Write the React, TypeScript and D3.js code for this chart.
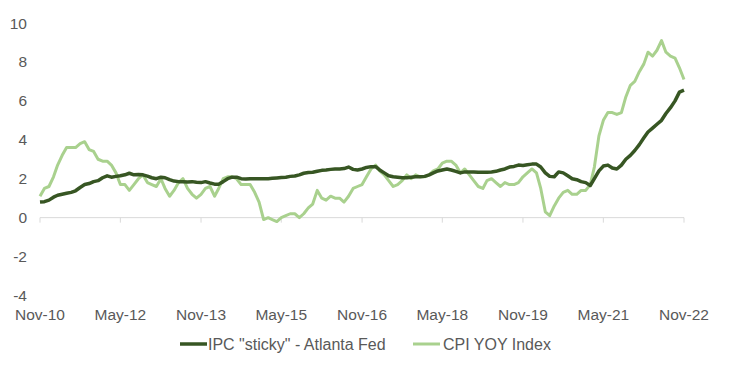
import React from "react";
import * as d3 from "d3";

const startMonth = new Date(2010, 10, 1); // Nov 2010

const stickyCPI = [
  0.80, 0.82, 0.90, 1.05, 1.15, 1.20, 1.25, 1.30, 1.38, 1.55, 1.70, 1.75,
  1.85, 1.90, 2.05, 2.15, 2.08, 2.12, 2.15, 2.20, 2.28, 2.20, 2.22, 2.20,
  2.13, 2.05, 2.00, 2.08, 2.05, 1.95, 1.88, 1.85, 1.85, 1.83, 1.85, 1.82,
  1.80, 1.85, 1.78, 1.72, 1.72, 1.85, 2.00, 2.08, 2.08, 2.00, 1.98, 2.00,
  2.00, 2.00, 2.00, 2.00, 2.02, 2.04, 2.06, 2.08, 2.12, 2.14, 2.20, 2.28,
  2.32, 2.33, 2.38, 2.43, 2.45, 2.48, 2.50, 2.50, 2.52, 2.60, 2.48, 2.45,
  2.50, 2.58, 2.62, 2.62, 2.45, 2.30, 2.15, 2.10, 2.08, 2.05, 2.05, 2.08,
  2.10, 2.10, 2.12, 2.20, 2.30, 2.40, 2.45, 2.50, 2.45, 2.38, 2.30, 2.35,
  2.35, 2.35, 2.33, 2.33, 2.33, 2.35, 2.38, 2.45, 2.50, 2.60, 2.63, 2.70,
  2.68, 2.72, 2.75, 2.75, 2.60, 2.30, 2.12, 2.10, 2.35, 2.30, 2.15, 2.00,
  1.95, 1.85, 1.80, 1.65, 2.00, 2.40, 2.65, 2.70, 2.55, 2.50, 2.70, 3.00,
  3.20, 3.45, 3.75, 4.10, 4.40, 4.60, 4.80, 5.00, 5.35, 5.65, 6.00, 6.45,
  6.55,
];

const cpiYoY = [
  1.1, 1.5,
  1.6, 2.1, 2.7, 3.2, 3.6, 3.6, 3.6, 3.8, 3.9, 3.5, 3.4, 3.0,
  2.9, 2.9, 2.7, 2.3, 1.7, 1.7, 1.4, 1.7, 2.0, 2.2, 1.8, 1.7,
  1.6, 2.0, 1.5, 1.1, 1.4, 1.8, 2.0, 1.5, 1.2, 1.0, 1.2, 1.5,
  1.6, 1.1, 1.5, 2.0, 2.1, 2.1, 2.0, 1.7, 1.7, 1.7, 1.3, 0.8,
  -0.1, 0.0, -0.1, -0.2, 0.0, 0.1, 0.2, 0.2, 0.0, 0.2, 0.5, 0.7,
  1.4, 1.0, 0.9, 1.1, 1.0, 1.0, 0.8, 1.1, 1.5, 1.6, 1.7, 2.1,
  2.5, 2.7, 2.4, 2.2, 1.9, 1.6, 1.7, 1.9, 2.2, 2.0, 2.2, 2.1,
  2.1, 2.2, 2.4, 2.5, 2.8, 2.9, 2.9, 2.7, 2.3, 2.5, 2.2, 1.9,
  1.6, 1.5, 1.9, 2.0, 1.8, 1.6, 1.8, 1.7, 1.7, 1.8, 2.1, 2.3,
  2.5, 2.3, 1.5, 0.3, 0.1, 0.6, 1.0, 1.3, 1.4, 1.2, 1.2, 1.4,
  1.4, 1.7, 2.6, 4.2, 5.0, 5.4, 5.4, 5.3, 5.4, 6.2, 6.8, 7.0,
  7.5, 7.9, 8.5, 8.3, 8.6, 9.1, 8.5, 8.3, 8.2, 7.7, 7.1,
];

const yTicks = [-4, -2, 0, 2, 4, 6, 8, 10];
const xTickLabels = ["Nov-10", "May-12", "Nov-13", "May-15", "Nov-16", "May-18", "Nov-19", "May-21", "Nov-22"];
const seriesNames = ['IPC "sticky" - Atlanta Fed', "CPI YOY Index"];
const seriesColors = ["#375623", "#A9D18E"];

const W = 745;
const H = 381;

export default function App() {
  const x = d3
    .scaleTime()
    .domain([startMonth, d3.timeMonth.offset(startMonth, 144)])
    .range([40, 684]);
  const y = d3.scaleLinear().domain([-4, 10]).range([295.5, 23]);

  const dateAt = (i: number) => d3.timeMonth.offset(startMonth, i);
  const line = d3
    .line<number>()
    .x((_, i) => x(dateAt(i)))
    .y((d) => y(d))
    .curve(d3.curveLinear);

  const xTickDates = xTickLabels.map((_, i) => dateAt(i * 18));
  const font = "'Liberation Sans', Arial, sans-serif";

  return (
    <svg
      width={W}
      height={H}
      style={{ position: "absolute", left: 0, top: 0, background: "#fff" }}
      fontFamily={font}
    >
      {/* zero axis */}
      <line x1={x(dateAt(0))} x2={x(dateAt(144))} y1={y(0)} y2={y(0)} stroke="#D9D9D9" strokeWidth={1} />
      {xTickDates.map((d, i) => (
        <line key={"t" + i} x1={x(d)} x2={x(d)} y1={y(0)} y2={y(0) + 5} stroke="#D9D9D9" strokeWidth={1} />
      ))}
      {/* y labels */}
      {yTicks.map((t) => (
        <text key={"y" + t} x={27} y={y(t) + 5.5} textAnchor="end" fontSize={15.5} fill="#595959">
          {t}
        </text>
      ))}
      {/* x labels */}
      {xTickDates.map((d, i) => (
        <text key={"x" + i} x={x(d)} y={319.5} textAnchor="middle" fontSize={15.5} fill="#595959">
          {xTickLabels[i]}
        </text>
      ))}
      {/* series */}
      <path d={line(cpiYoY) || ""} fill="none" stroke={seriesColors[1]} strokeWidth={3} strokeLinejoin="round" />
      <path d={line(stickyCPI) || ""} fill="none" stroke={seriesColors[0]} strokeWidth={3.5} strokeLinejoin="round" />
      {/* legend */}
      <line x1={180} x2={207} y1={344} y2={344} stroke={seriesColors[0]} strokeWidth={3.5} />
      <text x={208} y={349.5} fontSize={16} fill="#595959">{seriesNames[0]}</text>
      <line x1={413} x2={440} y1={344} y2={344} stroke={seriesColors[1]} strokeWidth={3} />
      <text x={443} y={349.5} fontSize={16} fill="#595959">{seriesNames[1]}</text>
    </svg>
  );
}
